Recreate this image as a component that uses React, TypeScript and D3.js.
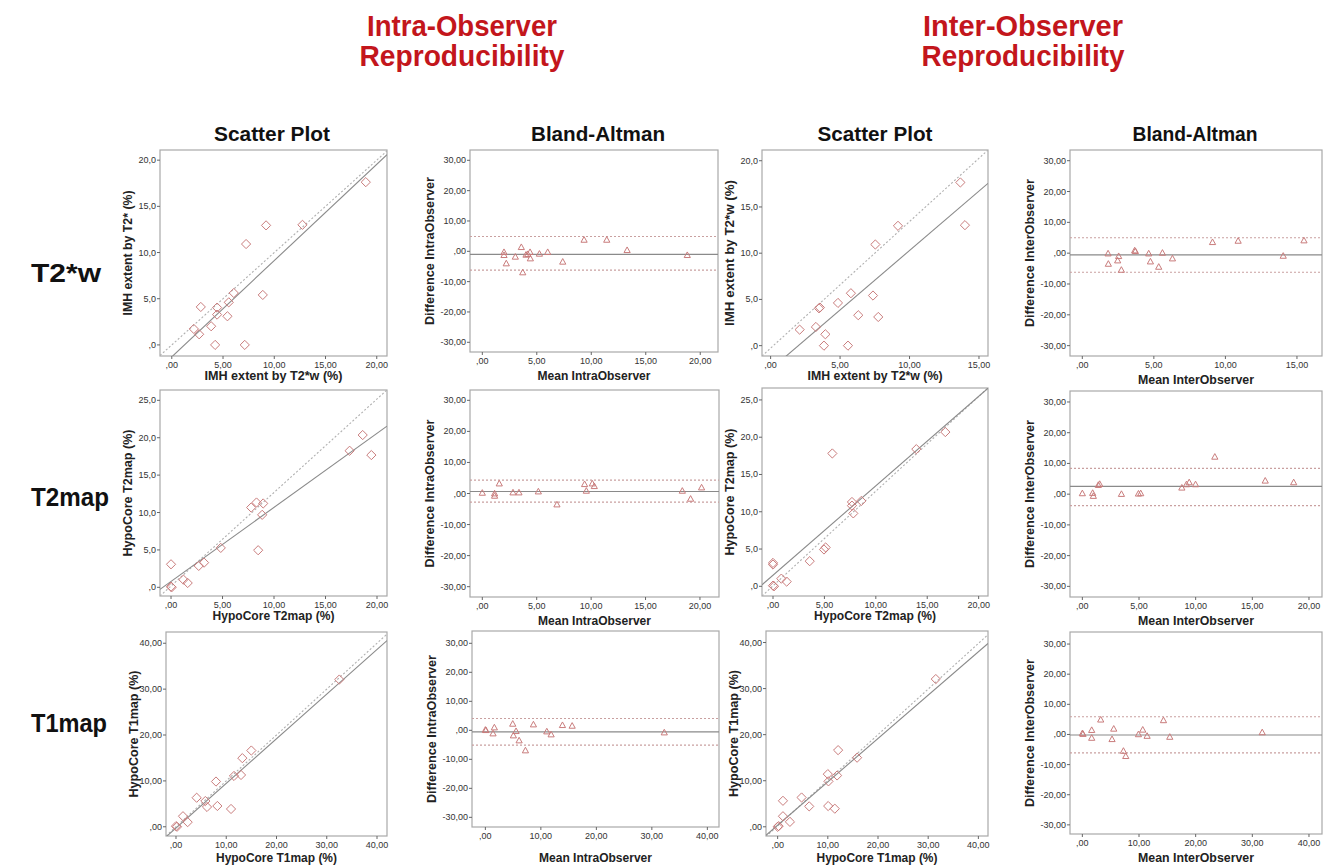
import * as d3 from "d3";

const W = 1332;
const H = 866;
const FONT = "'Liberation Sans', Arial, Helvetica, sans-serif";
const RED = "#c3161c";
const MARK = "#c97c7c";
const LINE = "#8a8a8a";
const FRAME = "#a9a9a9";
const TEXT = "#222";

// ---- data: [x, y] pairs ----
const T2W_INTRA_SCATTER = [
  [18.93, 17.62], [9.2, 12.94], [12.75, 13.0], [7.25, 10.92], [6.05, 5.62], [5.56, 4.61],
  [8.88, 5.41], [2.83, 4.11], [4.42, 4.04], [4.42, 3.28], [5.43, 3.1], [3.84, 2.02],
  [2.15, 1.73], [2.67, 1.15], [4.23, 0], [7.12, 0],
];
const T2W_INTRA_BA = [
  [1.99, -0.27], [1.99, -1.26], [2.2, -4.0], [3.03, -1.8], [3.58, 1.37], [3.71, -6.96],
  [4.01, -1.15], [4.17, -0.93], [4.38, -0.27], [4.41, -2.36], [5.24, -0.82], [6.0, -0.27],
  [7.38, -3.45], [9.34, 3.78], [11.42, 3.78], [13.29, 0.38], [18.81, -1.26],
];
const T2W_INTER_SCATTER = [
  [13.66, 17.65], [9.17, 12.96], [13.99, 13.03], [7.54, 10.94], [5.78, 5.67], [4.85, 4.62],
  [7.37, 5.42], [3.48, 4.04], [3.55, 4.12], [6.31, 3.29], [7.75, 3.1], [3.26, 2.02],
  [2.09, 1.73], [3.94, 1.23], [3.84, 0], [5.57, 0],
];
const T2W_INTER_BA = [
  [1.8, -0.11], [1.82, -3.47], [2.54, -0.97], [2.47, -2.38], [2.73, -5.42], [3.66, 0.87],
  [3.71, 0.65], [4.64, -0.11], [4.76, -2.71], [5.34, -4.44], [5.6, 0.11], [6.3, -1.73],
  [9.1, 3.57], [10.89, 4.0], [14.04, -0.87], [15.49, 4.12],
];
const T2MAP_INTRA_SCATTER = [
  [18.61, 20.36], [17.34, 18.26], [19.45, 17.68], [8.3, 11.34], [7.78, 10.67], [8.95, 11.21],
  [8.85, 9.69], [8.46, 4.96], [4.83, 5.27], [3.21, 3.3], [2.69, 2.86], [0, 3.08],
  [1.2, 1.03], [1.62, 0.58], [0, 0.09], [0.06, 0],
];
const T2MAP_INTRA_BA = [
  [0, 0.21], [1.13, 0], [1.13, -0.75], [1.56, 3.21], [2.82, 0.32], [3.37, 0.32],
  [5.15, 0.64], [6.86, -3.54], [9.4, 3.0], [9.56, 0.86], [10.11, 3.21], [10.29, 2.36],
  [18.38, 0.86], [19.14, -1.71], [20.15, 1.93],
];
const T2MAP_INTER_SCATTER = [
  [16.76, 20.69], [13.94, 18.4], [5.77, 17.82], [7.68, 11.31], [8.59, 11.45], [7.68, 10.82],
  [7.81, 9.78], [4.96, 4.94], [5.12, 5.21], [3.57, 3.37], [0, 3.14], [0, 2.92],
  [0.81, 1.03], [1.33, 0.63], [0, 0.09], [0.1, 0],
];
const T2MAP_INTER_BA = [
  [0, 0.27], [0.91, 0.38], [0.97, -0.59], [1.41, 2.97], [1.53, 3.3], [3.45, 0.05],
  [4.95, 0.16], [5.15, 0.27], [8.78, 2.11], [9.19, 3.19], [9.43, 3.84], [9.99, 3.19],
  [11.69, 12.16], [16.14, 4.38], [18.65, 3.84],
];
const T1MAP_INTRA_SCATTER = [
  [32.5, 32.09], [14.99, 16.62], [13.2, 14.96], [12.94, 11.29], [11.54, 11.08], [7.96, 9.86],
  [4.11, 6.33], [5.84, 5.61], [6.17, 4.32], [8.23, 4.53], [10.95, 3.88], [1.39, 2.3],
  [2.32, 1.01], [0, 0.14], [0.2, 0],
];
const T1MAP_INTRA_BA = [
  [0, 0.17], [0.1, 0.05], [1.38, -1.09], [1.62, 0.98], [4.93, 2.24], [5.05, -1.78],
  [5.53, -0.29], [6.08, -3.5], [7.22, -6.94], [8.66, 2.01], [11.07, -0.4], [11.85, -1.43],
  [13.89, 1.78], [15.64, 1.55], [32.24, -0.75],
];
const T1MAP_INTER_SCATTER = [
  [31.52, 32.07], [12.05, 16.64], [15.83, 15.0], [10.0, 11.43], [11.85, 11.14], [10.13, 9.86],
  [4.77, 6.36], [1.06, 5.64], [6.29, 4.43], [10.07, 4.5], [11.39, 3.93], [1.06, 2.29],
  [2.45, 1.07], [0.2, 0.14], [0, 0],
];
const T1MAP_INTER_BA = [
  [0, 0.38], [0.12, 0.16], [1.65, 1.46], [1.65, -1.14], [3.24, 4.92], [5.24, -1.57],
  [5.54, 1.89], [7.25, -5.46], [7.66, -7.19], [9.9, 0.05], [10.66, 1.57], [11.43, -0.49],
  [14.32, 4.7], [15.43, -0.81], [31.75, 0.7],
];

// scatter lines: [slope, intercept] for dotted reference and solid fit
const SCATTER_REF = [[1.0, 0], [1.369, -0.27], [1.25, 0.18], [1.27, 0.06], [1.0, 0], [0.99, 0.2]];
const SCATTER_FIT = [[1.042, -1.29], [1.286, -2.57], [0.99, 0.79], [1.2, 1.48], [0.973, -0.27], [0.941, 0.35]];
// Bland-Altman: [mean, upper LoA, lower LoA]
const BA_LINES = [[-1.0, 4.9, -6.2], [-0.54, 4.98, -6.17], [0.64, 4.29, -2.79], [2.54, 8.38, -3.73], [-0.52, 4.07, -5.1], [-0.16, 5.89, -6.11]];

// axis domains
const X_DOMAINS = [
  [-1.15, 21.0], [-1.13, 21.63], [-0.62, 15.65], [-0.86, 16.75],
  [-1.07, 20.97], [-1.13, 21.75], [-1.07, 20.91], [-1.09, 21.15],
  [-1.99, 41.99], [-2.41, 42.1], [-2.32, 41.92], [-2.18, 42.3],
];
const Y_DOMAINS = [
  [-1.2, 21.1], [-33.2, 33.4], [-1.12, 21.16], [-33.36, 33.47],
  [-1.16, 26.38], [-33.32, 33.32], [-1.3, 26.6], [-33.46, 33.57],
  [-2.01, 42.45], [-33.33, 34.24], [-2.0, 42.5], [-33.03, 34.0],
];
const TICKS_0_20 = [0, 5, 10, 15, 20];
const TICKS_0_15 = [0, 5, 10, 15];
const TICKS_0_25 = [0, 5, 10, 15, 20, 25];
const TICKS_0_40 = [0, 10, 20, 30, 40];
const TICKS_DIFF = [-30, -20, -10, 0, 10, 20, 30];

const ROW_LABELS = ["T2*w", "T2map", "T1map"];
const COL_HEADERS = ["Scatter Plot", "Bland-Altman", "Scatter Plot", "Bland-Altman"];

// ---- layout (pixels) ----
const FRAMES = [
  [160, 150, 387, 356], [470, 150, 718, 352], [762, 150, 988, 356], [1070, 150, 1322, 356],
  [160, 390, 387, 596], [470, 390, 719, 597], [762, 388, 988, 596], [1070, 391, 1322, 597],
  [166, 632, 387, 836], [472, 631, 719, 827], [766, 631, 988, 836], [1070, 632, 1322, 834],
];

const fmt = (v, d) => {
  let s = v.toFixed(d).replace(".", ",");
  s = s.replace(/^0,/, ",").replace(/^-0,/, "-,");
  return s;
};

const PANELS = [
  { kind: "scatter", pts: T2W_INTRA_SCATTER, xt: TICKS_0_20, yt: TICKS_0_20, yd: 1, xl: "IMH extent by T2*w (%)", yl: "IMH extent by T2* (%)", xw: 138, yw: 125, li: 0 },
  { kind: "ba", pts: T2W_INTRA_BA, xt: TICKS_0_20, yt: TICKS_DIFF, yd: 2, xl: "Mean IntraObserver", yl: "Difference IntraObserver", xw: 113, yw: 148, li: 0 },
  { kind: "scatter", pts: T2W_INTER_SCATTER, xt: TICKS_0_15, yt: TICKS_0_20, yd: 1, xl: "IMH extent by T2*w (%)", yl: "IMH extent by T2*w (%)", xw: 135, yw: 146, li: 1 },
  { kind: "ba", pts: T2W_INTER_BA, xt: TICKS_0_15, yt: TICKS_DIFF, yd: 2, xl: "Mean InterObserver", yl: "Difference InterObserver", xw: 116, yw: 148, li: 1 },
  { kind: "scatter", pts: T2MAP_INTRA_SCATTER, xt: TICKS_0_20, yt: TICKS_0_25, yd: 1, xl: "HypoCore T2map (%)", yl: "HypoCore T2map (%)", xw: 122, yw: 127, li: 2 },
  { kind: "ba", pts: T2MAP_INTRA_BA, xt: TICKS_0_20, yt: TICKS_DIFF, yd: 2, xl: "Mean IntraObserver", yl: "Difference IntraObserver", xw: 113, yw: 148, li: 2 },
  { kind: "scatter", pts: T2MAP_INTER_SCATTER, xt: TICKS_0_20, yt: TICKS_0_25, yd: 1, xl: "HypoCore T2map (%)", yl: "HypoCore T2map (%)", xw: 122, yw: 127, li: 3 },
  { kind: "ba", pts: T2MAP_INTER_BA, xt: TICKS_0_20, yt: TICKS_DIFF, yd: 2, xl: "Mean InterObserver", yl: "Difference InterObserver", xw: 116, yw: 148, li: 3 },
  { kind: "scatter", pts: T1MAP_INTRA_SCATTER, xt: TICKS_0_40, yt: TICKS_0_40, yd: 2, xl: "HypoCore T1map (%)", yl: "HypoCore T1map (%)", xw: 121, yw: 127, li: 4 },
  { kind: "ba", pts: T1MAP_INTRA_BA, xt: TICKS_0_40, yt: TICKS_DIFF, yd: 2, xl: "Mean IntraObserver", yl: "Difference IntraObserver", xw: 113, yw: 148, li: 4 },
  { kind: "scatter", pts: T1MAP_INTER_SCATTER, xt: TICKS_0_40, yt: TICKS_0_40, yd: 2, xl: "HypoCore T1map (%)", yl: "HypoCore T1map (%)", xw: 121, yw: 127, li: 5 },
  { kind: "ba", pts: T1MAP_INTER_BA, xt: TICKS_0_40, yt: TICKS_DIFF, yd: 2, xl: "Mean InterObserver", yl: "Difference InterObserver", xw: 116, yw: 148, li: 5 },
];

const diamond = "M0,-4.6L4.6,0L0,4.6L-4.6,0Z";
const triangle = "M0,-3.2L3.1,2.4L-3.1,2.4Z";

function Panel({ p, i }) {
  const [x0, y0, x1, y1] = FRAMES[i];
  const xD = X_DOMAINS[i];
  const yD = Y_DOMAINS[i];
  const x = d3.scaleLinear().domain(xD).range([x0, x1]);
  const y = d3.scaleLinear().domain(yD).range([y1, y0]);
  const line = d3.line().x((d) => x(d[0])).y((d) => y(d[1]));
  const clip = `clip-${i}`;
  const isBA = p.kind === "ba";

  const segs = [];
  if (isBA) {
    const [m, up, lo] = BA_LINES[p.li];
    segs.push({ d: line([[xD[0], m], [xD[1], m]]), dash: null, color: LINE });
    segs.push({ d: line([[xD[0], up], [xD[1], up]]), dash: "2 2", color: "#c9a0a0" });
    segs.push({ d: line([[xD[0], lo], [xD[1], lo]]), dash: "2 2", color: "#c9a0a0" });
  } else {
    const [rs, rb] = SCATTER_REF[p.li];
    const [fs, fb] = SCATTER_FIT[p.li];
    segs.push({ d: line(xD.map((v) => [v, rs * v + rb])), dash: "2 2", color: "#b0b0b0" });
    segs.push({ d: line(xD.map((v) => [v, fs * v + fb])), dash: null, color: LINE });
  }

  const ylx = isBA ? x0 - 36 : x0 - 28;
  const ymid = (y0 + y1) / 2;
  const bottomRow = i >= 8;
  const xly = bottomRow ? 862 : y1 + (isBA ? 28 : 24);
  const xfs = bottomRow ? 12 : 13;

  return (
    <g>
      <defs>
        <clipPath id={clip}>
          <rect x={x0} y={y0} width={x1 - x0} height={y1 - y0} />
        </clipPath>
      </defs>
      <rect x={x0} y={y0} width={x1 - x0} height={y1 - y0} fill="#fff" stroke={FRAME} strokeWidth={1.2} />
      <g clipPath={`url(#${clip})`}>
        {segs.map((s, k) => (
          <path key={k} d={s.d} fill="none" stroke={s.color} strokeWidth={1.1} strokeDasharray={s.dash || undefined} />
        ))}
        {p.pts.map((d, k) => (
          <path
            key={k}
            d={isBA ? triangle : diamond}
            transform={`translate(${x(d[0])},${y(d[1])})`}
            fill="none"
            stroke={MARK}
            strokeWidth={1}
          />
        ))}
      </g>
      {p.xt.map((t) => (
        <g key={`x${t}`}>
          <line x1={x(t)} x2={x(t)} y1={y1} y2={y1 + 3} stroke="#666" />
          <text x={x(t)} y={y1 + 11.5} textAnchor="middle" fontSize={9} fill="#333" fontFamily={FONT}>
            {fmt(t, 2)}
          </text>
        </g>
      ))}
      {p.yt.map((t) => (
        <g key={`y${t}`}>
          <line x1={x0 - 3} x2={x0} y1={y(t)} y2={y(t)} stroke="#666" />
          <text x={x0 - 4} y={y(t) + 3} textAnchor="end" fontSize={9} fill="#333" fontFamily={FONT}>
            {fmt(t, p.yd)}
          </text>
        </g>
      ))}
      <text
        x={(x0 + x1) / 2}
        y={xly}
        textAnchor="middle"
        fontSize={xfs}
        fontWeight="bold"
        fill={TEXT}
        fontFamily={FONT}
        textLength={p.xw}
        lengthAdjust="spacingAndGlyphs"
      >
        {p.xl}
      </text>
      <text
        transform={`translate(${ylx},${ymid}) rotate(-90)`}
        textAnchor="middle"
        fontSize={13}
        fontWeight="bold"
        fill={TEXT}
        fontFamily={FONT}
        textLength={p.yw}
        lengthAdjust="spacingAndGlyphs"
      >
        {p.yl}
      </text>
    </g>
  );
}

const HEADER_X = [272, 598, 875, 1195];
const HEADER_W = [116, 134, 115, 125];
const ROW_Y = [282, 506, 732];
const ROW_W = [70, 78, 76];

export default function App() {
  return (
    <svg
      width={W}
      height={H}
      viewBox={`0 0 ${W} ${H}`}
      style={{ position: "absolute", left: 0, top: 0, background: "#fff" }}
      fontFamily={FONT}
    >
      <rect width={W} height={H} fill="#fff" />
      <g fontWeight="bold" fill={RED} fontSize={29} textAnchor="middle">
        <text x={462} y={36} textLength={190} lengthAdjust="spacingAndGlyphs">Intra-Observer</text>
        <text x={462} y={66} textLength={205} lengthAdjust="spacingAndGlyphs">Reproducibility</text>
        <text x={1023} y={36} textLength={200} lengthAdjust="spacingAndGlyphs">Inter-Observer</text>
        <text x={1023} y={66} textLength={203} lengthAdjust="spacingAndGlyphs">Reproducibility</text>
      </g>
      <g fontWeight="bold" fill="#111" fontSize={20} textAnchor="middle">
        {COL_HEADERS.map((h, k) => (
          <text key={k} x={HEADER_X[k]} y={141} textLength={HEADER_W[k]} lengthAdjust="spacingAndGlyphs">
            {h}
          </text>
        ))}
      </g>
      <g fontWeight="bold" fill="#111" fontSize={26}>
        {ROW_LABELS.map((r, k) => (
          <text key={k} x={31} y={ROW_Y[k]} textLength={ROW_W[k]} lengthAdjust="spacingAndGlyphs">
            {r}
          </text>
        ))}
      </g>
      {PANELS.map((p, i) => (
        <Panel key={i} p={p} i={i} />
      ))}
    </svg>
  );
}
